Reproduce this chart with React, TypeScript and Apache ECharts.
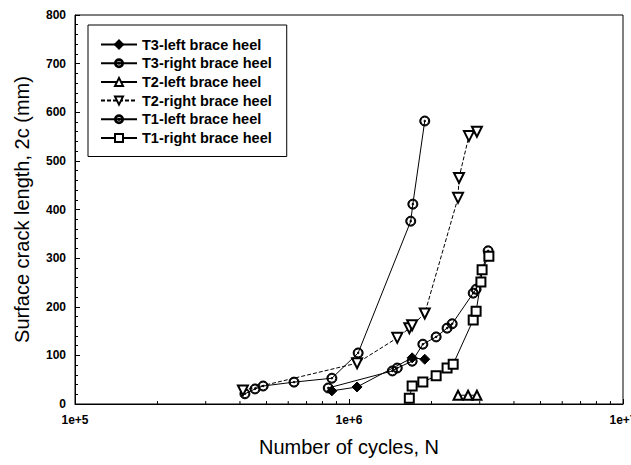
import React, { useEffect, useRef } from "react";
import * as echarts from "echarts";

const seriesNames = [
  "T3-left brace heel",
  "T3-right brace heel",
  "T2-left brace heel",
  "T2-right brace heel",
  "T1-left brace heel",
  "T1-right brace heel",
];

const t3Left = [[8.66e5, 27], [1.07e6, 35], [1.7e6, 95], [1.89e6, 92]];
const t3Right = [
  [4.17e5, 21], [4.54e5, 31], [4.86e5, 37], [6.3e5, 45], [8.66e5, 53],
  [1.08e6, 105], [1.68e6, 376], [1.71e6, 411], [1.89e6, 582],
];
const t2Left = [[2.5e6, 18], [2.72e6, 18], [2.93e6, 18]];
const t2Right = [
  [4.1e5, 28], [1.07e6, 84], [1.5e6, 136], [1.66e6, 156], [1.7e6, 162],
  [1.89e6, 186], [2.5e6, 424], [2.52e6, 465], [2.74e6, 551], [2.93e6, 560],
];
const t1Left = [
  [8.4e5, 33], [1.44e6, 68], [1.5e6, 74], [1.7e6, 88], [1.86e6, 123],
  [2.08e6, 138], [2.28e6, 156], [2.38e6, 165], [2.84e6, 228], [2.91e6, 236],
  [3.22e6, 315],
];
const t1Right = [
  [1.66e6, 12], [1.7e6, 37], [1.86e6, 45], [2.08e6, 58], [2.28e6, 74],
  [2.4e6, 82], [2.84e6, 173], [2.91e6, 191], [3.03e6, 251], [3.06e6, 276],
  [3.24e6, 304],
];

const xMinorTicks = [
  2e5, 3e5, 4e5, 5e5, 6e5, 7e5, 8e5, 9e5,
  2e6, 3e6, 4e6, 5e6, 6e6, 7e6, 8e6, 9e6,
];

const ringDot =
  "path://M0,10 A10,10 0 1,1 20,10 A10,10 0 1,1 0,10 Z " +
  "M2,10 A8,8 0 1,0 18,10 A8,8 0 1,0 2,10 Z " +
  "M8.4,10 A1.6,1.6 0 1,1 11.6,10 A1.6,1.6 0 1,1 8.4,10 Z";

const FONT = "'Liberation Sans', Arial, Helvetica, sans-serif";

export default function App() {
  const ref = useRef<HTMLDivElement>(null);
  useEffect(() => {
    if (!ref.current) return;
    const chart = echarts.init(ref.current, undefined, { renderer: "svg" });
    const line = (
      name: string,
      data: number[][],
      symbol: string,
      size: number,
      extra: any = {},
      lineType: any = "solid"
    ) => ({
      name,
      type: "line",
      data,
      symbol,
      symbolSize: size,
      showAllSymbol: true,
      lineStyle: { color: "#000", width: 1, type: lineType },
      itemStyle: { color: "#000", borderColor: "#000", borderWidth: 1 },
      ...extra,
    });
    chart.setOption({
      animation: false,
      backgroundColor: "#fff",
      grid: {
        left: 75,
        right: 8,
        top: 15,
        bottom: 61,
        show: true,
        borderColor: "#000",
        borderWidth: 1,
        outerBoundsMode: "none",
        containLabel: false,
      },
      legend: {
        orient: "vertical",
        left: 88,
        top: 25,
        padding: [12, 15, 11, 12],
        borderColor: "#000",
        borderWidth: 1,
        backgroundColor: "#fff",
        itemWidth: 36,
        itemHeight: 10,
        itemGap: 3.7,
        textStyle: {
          fontFamily: FONT,
          fontWeight: "bold",
          fontSize: 14.5,
          color: "#000",
        },
        data: seriesNames,
      },
      xAxis: {
        type: "log",
        logBase: 10,
        min: 1e5,
        max: 1e7,
        name: "Number of cycles, N",
        nameLocation: "middle",
        nameGap: 33,
        nameTextStyle: { fontFamily: FONT, fontSize: 20, color: "#000" },
        axisLine: { lineStyle: { color: "#000", width: 1 } },
        axisTick: { inside: true, length: 5, lineStyle: { color: "#000" } },
        splitLine: { show: false },
        axisLabel: {
          margin: 10,
          fontFamily: FONT,
          fontWeight: "bold",
          fontSize: 12,
          color: "#000",
          showMaxLabel: true,
          showMinLabel: true,
          formatter: (v: number) => "1e+" + Math.round(Math.log10(v)),
        },
      },
      yAxis: {
        type: "value",
        min: 0,
        max: 800,
        interval: 100,
        name: "Surface crack length, 2c (mm)",
        nameLocation: "middle",
        nameGap: 43,
        nameTextStyle: { fontFamily: FONT, fontSize: 20, color: "#000" },
        axisLine: { show: true, lineStyle: { color: "#000", width: 1 } },
        axisTick: { show: true, inside: true, length: 5, lineStyle: { color: "#000" } },
        minorTick: { show: true, splitNumber: 5, length: 3, lineStyle: { color: "#000" } },
        splitLine: { show: false },
        axisLabel: {
          margin: 9,
          fontFamily: FONT,
          fontWeight: "bold",
          fontSize: 12,
          color: "#000",
        },
      },
      series: [
        line(seriesNames[0], t3Left, "diamond", 10),
        line(seriesNames[1], t3Right, ringDot, 10),
        line(seriesNames[2], t2Left, "emptyTriangle", 9),
        line(seriesNames[3], t2Right, "emptyTriangle", 10, { symbolRotate: 180 }, [4, 2]),
        line(seriesNames[4], t1Left, ringDot, 10),
        line(seriesNames[5], t1Right, "emptyRect", 9),
      ],
    });

    const y0 = chart.convertToPixel({ yAxisIndex: 0 }, 0) as number;
    const ticks = xMinorTicks.map((v) => {
      const px = chart.convertToPixel({ xAxisIndex: 0 }, v) as number;
      return {
        type: "line",
        shape: { x1: px, y1: y0, x2: px, y2: y0 - 3 },
        style: { stroke: "#000", lineWidth: 1 },
        silent: true,
      };
    });
    chart.setOption({ graphic: ticks });

    return () => chart.dispose();
  }, []);
  return (
    <div
      ref={ref}
      style={{ position: "fixed", left: 0, top: 0, width: 631, height: 465 }}
    />
  );
}
